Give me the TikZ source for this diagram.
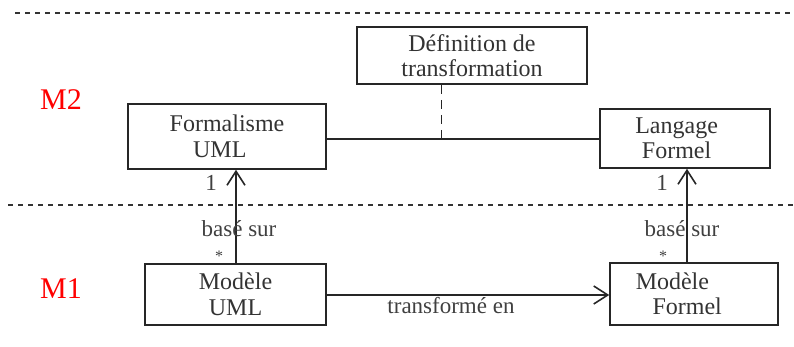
\documentclass[tikz,border=0pt]{standalone}
\usepackage{fontspec}
\setmainfont{Liberation Serif}
\usetikzlibrary{arrows.meta}
\begin{document}
\begin{tikzpicture}[x=1pt,y=-1pt,
  box/.style={draw=black!85,line width=1.6pt,inner sep=0pt,align=center,
    font=\fontsize{24}{25.5}\selectfont,text=black!80},
  lvl/.style={text=red,font=\fontsize{30}{30}\selectfont},
  txt/.style={text=black!75,font=\fontsize{23}{24}\selectfont,inner sep=0pt},
  sep/.style={black!80,line width=1.1pt,dash pattern=on 5pt off 5pt},
  conn/.style={black!85,line width=1.6pt},
  opn/.style={conn,-{Straight Barb[length=14pt,width=18pt,line width=1.6pt]}}]
\useasboundingbox (0,0) rectangle (794,347);

% level separators
\draw[sep] (15,13) -- (794,13);
\draw[sep] (8,205) -- (794,205);

% level labels
\node[lvl] (m2) at (61,100) {M2};
\node[lvl] (m1) at (61,289) {M1};

% classes
\node[box,minimum width=230pt,minimum height=57pt] (def) at (472,55.5)
  {Définition de\\transformation};
\node[box,minimum width=198pt,minimum height=65pt] (form) at (227,136.5)
  {Formalisme\\UML\hspace*{0.6em}};
\node[box,minimum width=170pt,minimum height=59pt] (lang) at (685,138.5)
  {Langage\hspace*{0.7em}\\Formel\hspace*{0.7em}};
\node[box,minimum width=181pt,minimum height=61pt] (muml) at (235.5,294.5)
  {Modèle\\UML};
\node[box,minimum width=168pt,minimum height=62pt,align=left] (mform) at (694,294)
  {Modèle\hspace*{1.8em}\\\hspace*{0.7em}Formel\hspace*{1.1em}};

% association between metamodels, with the transformation definition attached
\coordinate (assoc) at (441.5,139);
\draw[conn] (form.east |- assoc) -- (lang.west |- assoc);
\draw[conn,dash pattern=on 9pt off 6pt] (def.south -| assoc) -- (assoc);

% "basé sur" dependencies
\draw[opn] (muml.north -| 236,0) -- (form.south -| 236,0);
\draw[opn] (mform.north -| 687,0) -- (lang.south -| 687,0);
\node[txt] (one1) at (211,183) {1};
\node[txt] (one2) at (662,183) {1};
\node[txt] (bs1) at (239,229) {basé sur};
\node[txt] (bs2) at (682,229) {basé sur};
\node[txt,font=\fontsize{16}{16}\selectfont] (st1) at (219,256) {*};
\node[txt,font=\fontsize{16}{16}\selectfont] (st2) at (663,256) {*};

% transformation
\draw[opn] (muml.east |- 0,295) -- (mform.west |- 0,295);
\node[txt] (tr) at (451,306) {transformé en};
\end{tikzpicture}
\end{document}
